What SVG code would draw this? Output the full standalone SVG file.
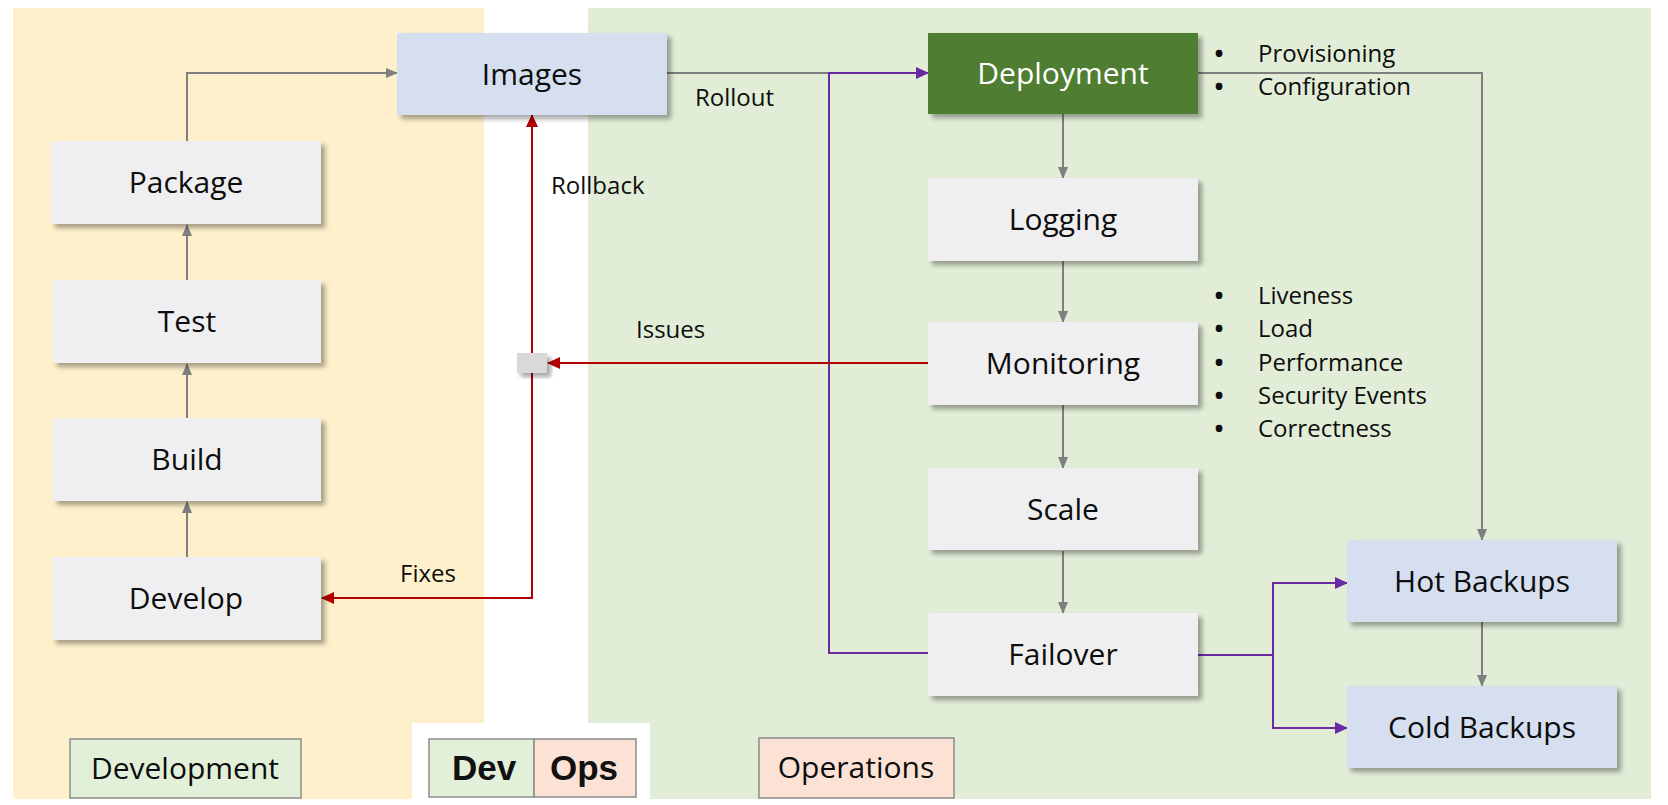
<svg xmlns="http://www.w3.org/2000/svg" width="1668" height="805" viewBox="0 0 1668 805">
<defs>
<filter id="sh" x="-10%" y="-10%" width="130%" height="140%">
<feDropShadow dx="4" dy="4" stdDeviation="2.5" flood-color="#000" flood-opacity="0.35"/>
</filter>
<marker id="ag" markerUnits="userSpaceOnUse" markerWidth="12" markerHeight="10" refX="11" refY="5" orient="auto"><path d="M0,0 L12,5 L0,10 z" fill="#7f7f7f"/></marker>
<marker id="ar" markerUnits="userSpaceOnUse" markerWidth="13" markerHeight="12" refX="12" refY="6" orient="auto"><path d="M0,0 L13,6 L0,12 z" fill="#b00000"/></marker>
<marker id="ap" markerUnits="userSpaceOnUse" markerWidth="13" markerHeight="12" refX="12" refY="6" orient="auto"><path d="M0,0 L13,6 L0,12 z" fill="#6a2aa0"/></marker>
</defs>
<style>
.node{fill:#efeff1;filter:url(#sh)}
.blue{fill:#d5dff0;filter:url(#sh)}
.green{fill:#507e31;filter:url(#sh)}
.lbl{font-family:"Open Sans","Noto Sans",sans-serif;font-size:30px;font-weight:500;fill:#0d0d0d;text-anchor:middle}
.sm{font-family:"Open Sans","Noto Sans",sans-serif;font-size:24px;font-weight:500;fill:#0d0d0d}
.bul{font-family:"Open Sans","Noto Sans",sans-serif;font-size:24px;font-weight:bold;fill:#0d0d0d;text-anchor:middle}
.g{fill:none;stroke:#7f7f7f;stroke-width:2}
.r{fill:none;stroke:#b00000;stroke-width:2}
.p{fill:none;stroke:#6a2aa0;stroke-width:2}
.leg{stroke:#8c8c8c;stroke-width:1.5}
.bold{font-family:"Liberation Sans",Arial,sans-serif;font-weight:bold;font-size:35px;fill:#111;text-anchor:middle}
</style>
<rect width="1668" height="805" fill="#ffffff"/>
<rect x="13" y="8" width="471" height="791" fill="#fef0cb"/>
<rect x="588" y="8" width="1063" height="791" fill="#e1edd6"/>
<rect x="412" y="723" width="238" height="82" fill="#ffffff"/>

<g id="connectors">
<path class="g" d="M187,141 V73 H397" marker-end="url(#ag)"/>
<path class="g" d="M187,280 V225" marker-end="url(#ag)"/>
<path class="g" d="M187,418 V364" marker-end="url(#ag)"/>
<path class="g" d="M187,557 V502" marker-end="url(#ag)"/>
<path class="g" d="M667,73 H829"/>
<path class="p" d="M928,653 H829 V73 H928" marker-end="url(#ap)"/>
<path class="g" d="M1063,114 V178" marker-end="url(#ag)"/>
<path class="g" d="M1063,261 V322" marker-end="url(#ag)"/>
<path class="g" d="M1063,405 V468" marker-end="url(#ag)"/>
<path class="g" d="M1063,551 V613" marker-end="url(#ag)"/>
<path class="g" d="M1198,73 H1482 V540" marker-end="url(#ag)"/>
<path class="g" d="M1482,622 V686" marker-end="url(#ag)"/>
<path class="p" d="M1198,655 H1273 V583 H1347" marker-end="url(#ap)"/>
<path class="p" d="M1273,655 V728 H1347" marker-end="url(#ap)"/>
<path class="r" d="M928,363 H548" marker-end="url(#ar)"/>
<path class="r" d="M532,354 V115" marker-end="url(#ar)"/>
<path class="r" d="M532,373 V598 H322" marker-end="url(#ar)"/>
<text class="sm" x="695" y="106">Rollout</text>
<text class="sm" x="551" y="194">Rollback</text>
<text class="sm" x="636" y="338">Issues</text>
<text class="sm" x="400" y="582">Fixes</text>
</g>

<g id="junction"><rect x="517" y="353" width="30" height="20" fill="#d9d9d9" filter="url(#sh)"/></g>

<g id="images"><rect class="blue" x="397" y="33" width="270" height="82"/><text class="lbl" x="532" y="85">Images</text></g>
<g id="package"><rect class="node" x="51" y="141" width="270" height="83"/><text class="lbl" x="186" y="193">Package</text></g>
<g id="test"><rect class="node" x="53" y="280" width="268" height="83"/><text class="lbl" x="187" y="332">Test</text></g>
<g id="build"><rect class="node" x="53" y="418" width="268" height="83"/><text class="lbl" x="187" y="470">Build</text></g>
<g id="develop"><rect class="node" x="52" y="557" width="269" height="83"/><text class="lbl" x="186" y="609">Develop</text></g>

<g id="deployment"><rect class="green" x="928" y="33" width="270" height="81"/><text class="lbl" x="1063" y="84" style="fill:#ffffff">Deployment</text></g>
<g id="logging"><rect class="node" x="928" y="178" width="270" height="83"/><text class="lbl" x="1063" y="230">Logging</text></g>
<g id="monitoring"><rect class="node" x="928" y="322" width="270" height="83"/><text class="lbl" x="1063" y="374">Monitoring</text></g>
<g id="scale"><rect class="node" x="928" y="468" width="270" height="82"/><text class="lbl" x="1063" y="520">Scale</text></g>
<g id="failover"><rect class="node" x="928" y="613" width="270" height="83"/><text class="lbl" x="1063" y="665">Failover</text></g>
<g id="hot-backups"><rect class="blue" x="1347" y="540" width="270" height="82"/><text class="lbl" x="1482" y="592">Hot Backups</text></g>
<g id="cold-backups"><rect class="blue" x="1347" y="686" width="270" height="82"/><text class="lbl" x="1482" y="738">Cold Backups</text></g>

<g id="deploy-notes">
<text class="bul" x="1219" y="62">•</text><text class="sm" x="1258" y="62">Provisioning</text>
<text class="bul" x="1219" y="95">•</text><text class="sm" x="1258" y="95">Configuration</text>
</g>
<g id="monitor-notes">
<text class="bul" x="1219" y="304">•</text><text class="sm" x="1258" y="304">Liveness</text>
<text class="bul" x="1219" y="337">•</text><text class="sm" x="1258" y="337">Load</text>
<text class="bul" x="1219" y="371">•</text><text class="sm" x="1258" y="371">Performance</text>
<text class="bul" x="1219" y="404">•</text><text class="sm" x="1258" y="404">Security Events</text>
<text class="bul" x="1219" y="437">•</text><text class="sm" x="1258" y="437">Correctness</text>
</g>

<g id="legend-development"><rect class="leg" x="70" y="739" width="231" height="59" fill="#e2efd9"/><text class="lbl" x="185" y="779">Development</text></g>
<g id="legend-devops">
<rect class="leg" x="429" y="739" width="105" height="58" fill="#e2efd9"/>
<rect class="leg" x="534" y="739" width="102" height="58" fill="#fbe2d5"/>
<text class="bold" x="484" y="780">Dev</text>
<text class="bold" x="584" y="780">Ops</text>
</g>
<g id="legend-operations"><rect class="leg" x="759" y="738" width="195" height="60" fill="#fbe2d5"/><text class="lbl" x="856" y="778">Operations</text></g>
</svg>
